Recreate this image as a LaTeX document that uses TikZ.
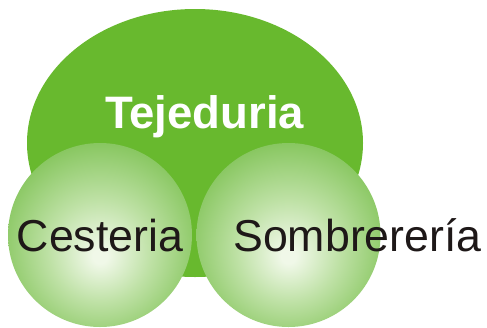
\documentclass[tikz,border=0pt]{standalone}
\usepackage{fontspec}
\setmainfont{Liberation Sans}
\definecolor{tejgreen}{RGB}{104,185,46}
\definecolor{ballc}{RGB}{240,248,232}
\definecolor{ballm}{RGB}{190,225,165}
\definecolor{balle}{RGB}{135,198,95}
\definecolor{txt}{RGB}{30,24,24}
\pgfdeclareradialshading{ballgreen}{\pgfpoint{0bp}{-6bp}}{color(0bp)=(ballc); color(2bp)=(ballc); color(14bp)=(ballm); color(28bp)=(balle); color(50bp)=(balle)}
\begin{document}
\begin{tikzpicture}[x=1pt,y=-1pt,
  ball/.style={circle, shading=ballgreen, minimum size=184pt, inner sep=0pt},
  lbl/.style={anchor=base, inner sep=0pt, text=txt, font=\fontsize{44.7}{50}\selectfont}]
\useasboundingbox (0,0) rectangle (487,327);
\fill[tejgreen] (195,143) ellipse [x radius=168pt, y radius=134pt];
\node[ball] (ces) at (100,235) {};
\node[ball] (som) at (288.5,235) {};
\node[lbl, text=white, font=\fontsize{45.5}{50}\selectfont\bfseries] (tej) at (204.5,128) {Tejeduria};
\node[lbl] (tces) at (100,251) {Cesteria};
\node[lbl] (tsom) at (357.5,251) {Sombrerería};
\end{tikzpicture}
\end{document}
